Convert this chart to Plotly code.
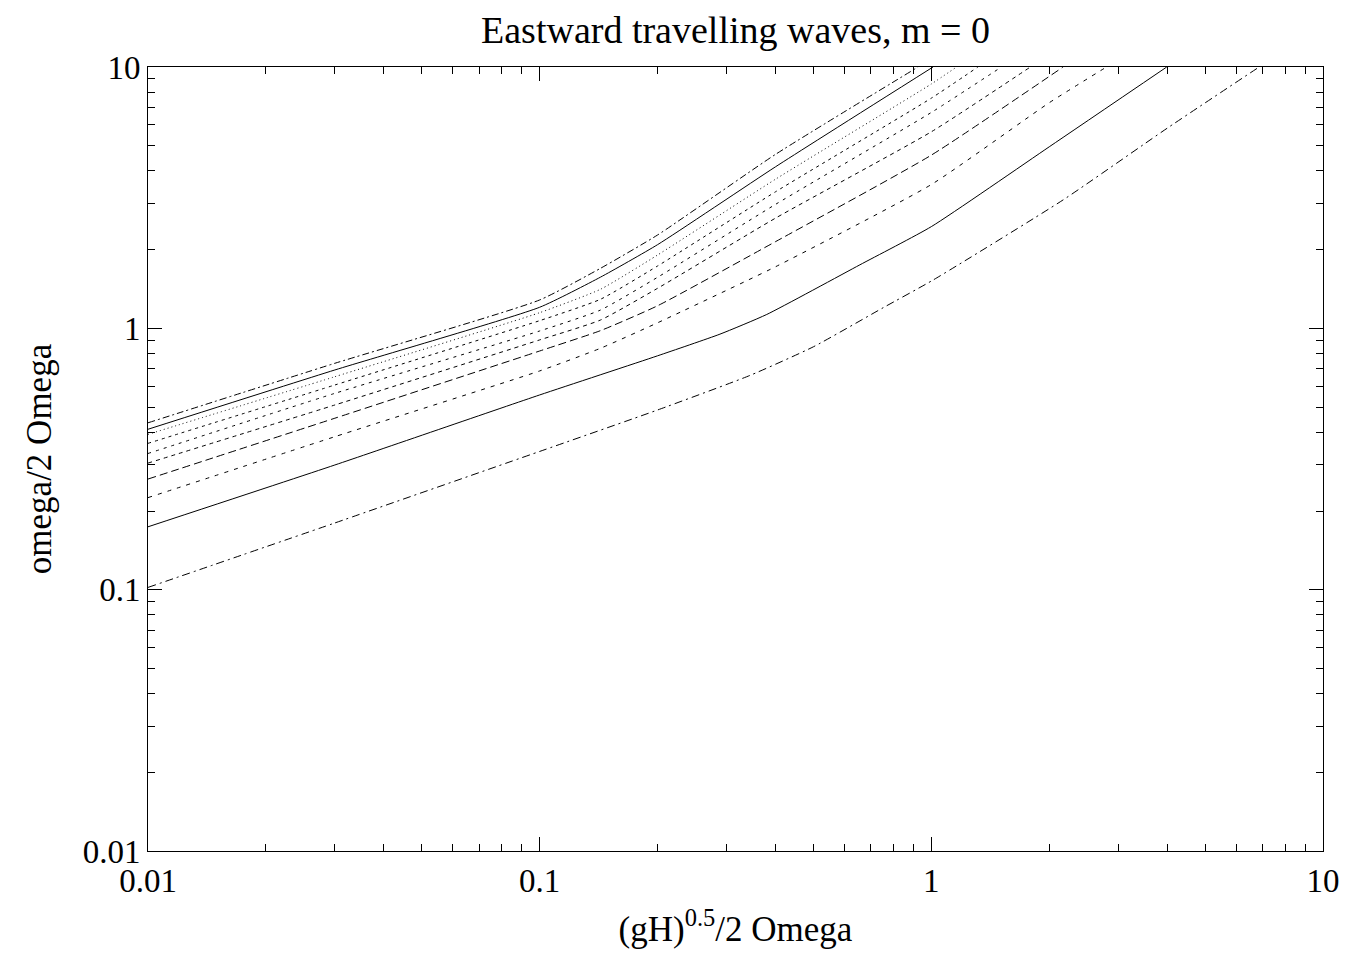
import plotly.graph_objects as go

# Curves n = 0..9 (bottom to top)
x_n0 = [0.01, 0.03, 0.1, 0.2, 0.344, 0.5, 0.754, 1.01, 2.17, 4.0, 6.87]
y_n0 = [0.102, 0.18, 0.338, 0.487, 0.66, 0.85, 1.2, 1.53, 3.10, 5.83, 10.0]
x_n1 = [0.01, 0.03, 0.1, 0.2, 0.2886, 0.38, 0.657, 1.0, 2.0, 3.99]
y_n1 = [0.174, 0.30, 0.556, 0.785, 0.95, 1.13, 1.75, 2.45, 4.95, 10.0]
x_n2 = [0.01, 0.03, 0.1, 0.143, 0.2, 0.4, 1.0, 2.0, 2.8]
y_n2 = [0.225, 0.385, 0.687, 0.839, 1.05, 1.72, 3.55, 7.3, 10.0]
x_n3 = [0.01, 0.03, 0.1, 0.143, 0.2, 0.4, 1.0, 2.17]
y_n3 = [0.265, 0.453, 0.819, 0.98, 1.22, 2.146, 4.6, 10.0]
x_n4 = [0.01, 0.03, 0.1, 0.143, 0.2, 0.4, 1.0, 1.79]
y_n4 = [0.305, 0.509, 0.903, 1.076, 1.423, 2.64, 5.65, 10.0]
x_n5 = [0.01, 0.03, 0.1, 0.143, 0.2, 0.4, 1.0, 1.51]
y_n5 = [0.332, 0.564, 0.977, 1.175, 1.568, 2.98, 6.7, 10.0]
x_n6 = [0.01, 0.03, 0.1, 0.143, 0.2, 0.4, 1.0, 1.315]
y_n6 = [0.363, 0.607, 1.070, 1.292, 1.732, 3.33, 7.6, 10.0]
x_n7 = [0.01, 0.03, 0.1, 0.143, 0.2, 0.4, 1.0, 1.16]
y_n7 = [0.393, 0.653, 1.148, 1.411, 1.908, 3.72, 8.61, 10.0]
x_n8 = [0.01, 0.03, 0.1, 0.143, 0.2, 0.4, 1.01]
y_n8 = [0.411, 0.693, 1.204, 1.57, 2.09, 4.15, 10.0]
x_n9 = [0.01, 0.03, 0.1, 0.143, 0.2, 0.4, 0.925]
y_n9 = [0.435, 0.735, 1.284, 1.697, 2.276, 4.63, 10.0]

xs = [x_n0, x_n1, x_n2, x_n3, x_n4, x_n5, x_n6, x_n7, x_n8, x_n9]
ys = [y_n0, y_n1, y_n2, y_n3, y_n4, y_n5, y_n6, y_n7, y_n8, y_n9]
dashes = ["8px,4px,2px,4px", "solid", "4px,6px", "8px,4px", "4px,4px",
          "3px,5px", "3px,4px", "1px,3px", "solid", "7px,3px,2px,3px"]

fig = go.Figure()
for x, y, d in zip(xs, ys, dashes):
    fig.add_trace(go.Scatter(x=x, y=y, mode="lines",
                             line=dict(color="black", width=1, dash=d, shape="spline", smoothing=0.5),
                             showlegend=False, hoverinfo="skip"))

major = [0.01, 0.1, 1, 10]
major_txt = ["0.01", "0.1", "1", "10"]
minor = [m * 10 ** e for e in (-2, -1, 0) for m in range(2, 10)]

FONT = "Liberation Serif"
axis_common = dict(
    type="log", showgrid=False, zeroline=False, showline=True, linecolor="black",
    linewidth=1, mirror="allticks", ticks="inside", ticklen=14, tickwidth=1,
    tickcolor="black", tickmode="array", tickvals=major, ticktext=major_txt,
    tickfont=dict(family=FONT, size=33, color="black"),
    minor=dict(tickmode="array", tickvals=minor, ticks="inside", ticklen=7,
               tickwidth=1, tickcolor="black", showgrid=False),
)

fig.update_layout(
    width=1345, height=945,
    paper_bgcolor="white", plot_bgcolor="white",
    margin=dict(l=140, r=30, t=59, b=102),
    title=dict(text="Eastward travelling waves, m = 0", x=0.5, xref="paper",
               xanchor="center", y=1, yref="container", yanchor="top", pad=dict(t=8),
               font=dict(family=FONT, size=38, color="black")),
    xaxis=dict(range=[-2, 1], title=dict(text="(gH)<sup>0.5</sup>/2 Omega",
               font=dict(family=FONT, size=35, color="black"), standoff=18),
               **axis_common),
    yaxis=dict(range=[-2, 1], title=dict(text="omega/2 Omega",
               font=dict(family=FONT, size=35, color="black"), standoff=20),
               **axis_common),
)

fig.write_html("out.html")
